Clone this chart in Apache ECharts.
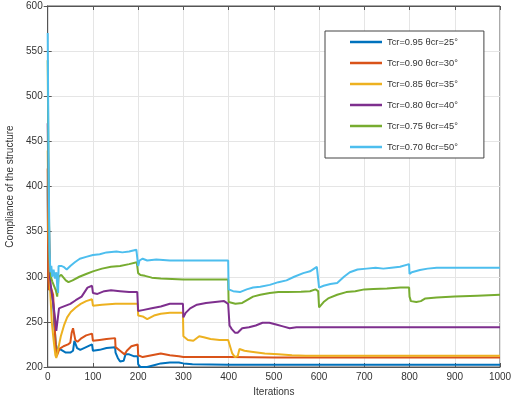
<!DOCTYPE html>
<html>
<head>
<meta charset="utf-8">
<script src="https://cdn.jsdelivr.net/npm/echarts@6/dist/echarts.min.js"></script>
<style>
html,body{margin:0;padding:0;background:#fff;}
#chart{width:513px;height:405px;}
</style>
</head>
<body>
<div id="chart"></div>
<script>
var seriesNames = ['Tcr=0.95 θcr=25°','Tcr=0.90 θcr=30°','Tcr=0.85 θcr=35°','Tcr=0.80 θcr=40°','Tcr=0.75 θcr=45°','Tcr=0.70 θcr=50°'];
var xTicks = [0,100,200,300,400,500,600,700,800,900,1000];
var yTicks = [200,250,300,350,400,450,500,550,600];

var s95 = [[0,400],[1,320],[3,290],[6,285],[9,282],[12,270],[15,245],[18,225],[21,220],[25,221],[30,219],[40,216],[50,216],[56,218],[59,229],[62,231],[65,221],[72,219],[85,222],[98,225],[100,218],[115,219],[130,221],[149,222],[150,216],[155,210],[160,206],[168,207],[172,214],[180,214],[190,212],[199,212],[200,203],[205,200],[220,200],[235,202],[250,204],[270,205],[290,205],[300,204],[320,203],[400,202.5],[500,202.5],[1000,202.5]];
var s90 = [[0,420],[1,300],[3,285],[6,290],[9,285],[12,280],[15,250],[18,220],[20,212],[23,213],[26,220],[35,223],[45,225],[50,227],[53,238],[56,243],[59,242],[61,230],[66,228],[75,232],[85,235],[98,237],[100,229],[115,230],[130,231],[149,232],[150,222],[160,218],[170,214],[175,218],[185,223],[199,225],[200,213],[210,211],[230,213],[250,215],[270,213],[290,212],[300,211],[400,211],[500,210.5],[1000,210.5]];
var s85 = [[0,440],[2,350],[5,290],[9,250],[13,230],[17,213],[19,210],[24,222],[29,234],[36,246],[43,255],[51,261],[62,266],[73,270],[85,273],[98,275],[100,268],[120,269],[150,270],[180,270],[199,270],[200,257],[210,256],[220,253],[235,257],[250,259],[270,260],[299,260],[300,234],[310,230],[322,229],[335,234],[345,233],[360,231],[380,230],[399,230],[402,225],[408,215],[414,211],[420,212],[424,220],[435,218],[450,217],[480,215],[510,214],[540,213],[570,212.5],[600,212.5],[800,212.5],[1000,212.5]];
var s80 = [[0,470],[2,380],[5,300],[8,285],[12,272],[16,255],[19,240],[21,242],[25,265],[30,266],[40,268],[50,270],[62,274],[75,278],[88,288],[98,290],[100,282],[110,281],[125,284],[140,285],[160,284],[180,283],[198,283],[200,262],[210,263],[230,265],[250,267],[270,270],[285,270],[299,270],[300,255],[305,260],[315,265],[330,269],[350,271],[370,272],[390,273],[399,270],[402,246],[407,242],[414,238],[420,238],[430,243],[445,244],[460,246],[475,249],[490,249],[505,247],[520,245],[535,243],[550,244],[600,244],[700,244],[800,244],[900,244],[1000,244]];
var s75 = [[0,540],[2,400],[4,320],[7,300],[10,295],[14,290],[18,285],[21,278],[24,300],[30,302],[40,296],[46,294],[55,296],[70,300],[85,303],[100,306],[120,309],[140,311],[160,312],[180,314],[197,316],[199,315],[200,304],[205,302],[215,301],[230,299],[250,298],[300,297],[350,297],[399,297],[400,272],[415,270],[430,271],[454,278],[470,280],[491,282],[510,283],[528,283],[560,283.5],[580,284],[592,286],[598,284],[600,266],[602,264],[610,272],[620,276],[640,280],[660,283],[680,284],[700,286],[720,286.5],[750,287],[780,288],[799,288],[800,278],[803,273],[815,272],[825,273],[835,276],[860,277],[900,278],[950,279],[1000,280]];
var s70 = [[0,570],[2,420],[4,330],[6,305],[8,312],[10,300],[13,308],[16,298],[19,305],[21,290],[23,282],[24,312],[30,312],[35,311],[42,308],[50,312],[60,316],[71,320],[85,322],[100,324],[115,325],[130,327],[152,328],[165,327],[180,328],[196,330],[199,329],[200,312],[203,318],[210,320],[220,318],[240,319],[270,318],[300,318],[350,318],[399,318],[400,286],[410,284],[425,283],[440,286],[454,288],[470,289],[491,291],[510,294],[528,296],[545,300],[565,304],[580,306],[595,311],[599,312],[600,288],[610,290],[625,292],[640,293],[655,300],[668,305],[685,308],[705,309],[725,310],[742,309],[760,310],[779,311],[799,314],[800,303],[805,305],[823,307.5],[840,309],[860,310],[900,310],[950,310],[1000,310]];

var seriesData = [s95, s90, s85, s80, s75, s70];
var colors = ['#0072BD','#D95319','#EDB120','#7E2F8E','#77AC30','#4DBEEE'];

var chart = echarts.init(document.getElementById('chart'), null, {renderer:'canvas'});
var axisColor = '#555';
var txt = '#333';
var font = 'Liberation Sans, Arial, sans-serif';
var option = {
  animation: false,
  backgroundColor: '#fff',
  color: colors,
  grid: {left: 47.7, right: 13, top: 6, bottom: 38, show: true, borderColor: axisColor, borderWidth: 1, outerBoundsMode: 'none', containLabel: false},
  legend: {
    orient: 'vertical', left: 325, top: 31,
    icon: 'rect', itemWidth: 32, itemHeight: 2.5, itemGap: 7,
    padding: [4, 26, 4, 25],
    borderColor: '#444', borderWidth: 1, backgroundColor: '#fff',
    textStyle: {fontSize: 9.3, color: txt, lineHeight: 14, fontFamily: font},
    data: seriesNames
  },
  xAxis: [{
    type: 'value', min: 0, max: 1000, interval: 100,
    name: 'Iterations', nameLocation: 'middle', nameGap: 19,
    nameTextStyle: {fontSize: 10, color: txt, fontFamily: font},
    axisLine: {show: true, lineStyle: {color: axisColor}},
    axisTick: {show: true, inside: true, length: 4, lineStyle: {color: axisColor}},
    axisLabel: {fontSize: 10, color: txt, margin: 5, fontFamily: font, formatter: function(v){ return String(v); }},
    splitLine: {show: true, lineStyle: {color: '#e5e5e5'}}
  },{
    type: 'value', min: 0, max: 1000, interval: 100, position: 'top',
    axisLine: {show: true, lineStyle: {color: axisColor}},
    axisTick: {show: true, inside: true, length: 4, lineStyle: {color: axisColor}},
    axisLabel: {show: false}, splitLine: {show: false}
  }],
  yAxis: [{
    type: 'value', min: 200, max: 600, interval: 50,
    name: 'Compliance of the structure', nameLocation: 'middle', nameGap: 28,
    nameTextStyle: {fontSize: 10, color: txt, fontFamily: font},
    axisLine: {show: true, lineStyle: {color: axisColor}},
    axisTick: {show: true, inside: true, length: 4, lineStyle: {color: axisColor}},
    axisLabel: {fontSize: 10, color: txt, margin: 5, fontFamily: font},
    splitLine: {show: true, lineStyle: {color: '#e5e5e5'}}
  },{
    type: 'value', min: 200, max: 600, interval: 50, position: 'right',
    axisLine: {show: true, lineStyle: {color: axisColor}},
    axisTick: {show: true, inside: true, length: 4, lineStyle: {color: axisColor}},
    axisLabel: {show: false}, splitLine: {show: false}
  }],
  series: seriesNames.map(function(n, i){
    return {
      name: n, type: 'line', data: seriesData[i],
      xAxisIndex: 0, yAxisIndex: 0,
      symbol: 'none', showSymbol: false,
      lineStyle: {width: 2, color: colors[i]},
      itemStyle: {color: colors[i]},
      z: 2 + i
    };
  })
};
chart.setOption(option);
</script>
</body>
</html>
